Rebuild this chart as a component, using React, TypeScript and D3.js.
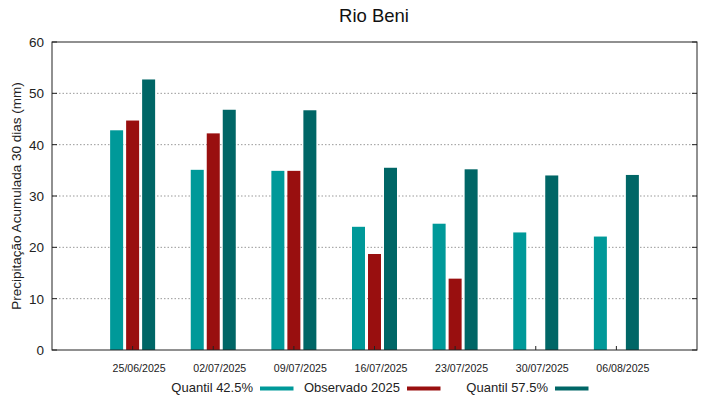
import * as React from "react";
import * as d3 from "d3";

const dates = ["25/06/2025", "02/07/2025", "09/07/2025", "16/07/2025", "23/07/2025", "30/07/2025", "06/08/2025"];
const quantil425 = [42.8, 35.1, 34.9, 24.0, 24.6, 22.9, 22.1];
const observado = [44.7, 42.2, 34.9, 18.7, 13.9, null, null];
const quantil575 = [52.7, 46.8, 46.7, 35.5, 35.2, 34.0, 34.1];
const yTicks = [0, 10, 20, 30, 40, 50, 60];

const series = [
  { name: "Quantil 42.5%", values: quantil425, color: "#009999", offset: -16 },
  { name: "Observado 2025", values: observado, color: "#990f0f", offset: 0 },
  { name: "Quantil 57.5%", values: quantil575, color: "#006666", offset: 16 },
];

const W = 719, H = 399;
const left = 52, right = 697, top = 42, bottom = 350;
const font = "Liberation Sans, Arial, sans-serif";

export default function App() {
  const ref = React.useRef<SVGSVGElement>(null);

  React.useEffect(() => {
    const svg = d3.select(ref.current);
    svg.selectAll("*").remove();

    const x = d3.scaleLinear().domain([0, 8]).range([left, right]);
    const y = d3.scaleLinear().domain([0, 60]).range([bottom, top]);
    const barW = 13;

    // grid
    svg.append("g")
      .selectAll("line")
      .data(yTicks.slice(1, -1))
      .enter()
      .append("line")
      .attr("x1", left).attr("x2", right)
      .attr("y1", d => y(d)).attr("y2", d => y(d))
      .attr("stroke", "#999").attr("stroke-width", 1)
      .attr("stroke-dasharray", "1.5,2");

    // bars
    series.forEach(s => {
      svg.append("g")
        .selectAll("rect")
        .data(s.values.map((v, i) => ({ v, i })).filter(d => d.v != null))
        .enter()
        .append("rect")
        .attr("x", d => x(d.i + 1) + s.offset - barW / 2)
        .attr("width", barW)
        .attr("y", d => y(d.v as number))
        .attr("height", d => y(0) - y(d.v as number))
        .attr("fill", s.color);
    });

    // frame
    svg.append("rect")
      .attr("x", left).attr("y", top)
      .attr("width", right - left).attr("height", bottom - top)
      .attr("fill", "none").attr("stroke", "#222").attr("stroke-width", 1);

    // y ticks (inward, both sides)
    const yt = svg.append("g");
    yTicks.forEach(t => {
      yt.append("line").attr("x1", left).attr("x2", left + 5).attr("y1", y(t)).attr("y2", y(t)).attr("stroke", "#222");
      yt.append("line").attr("x1", right).attr("x2", right - 5).attr("y1", y(t)).attr("y2", y(t)).attr("stroke", "#222");
      yt.append("text")
        .attr("x", left - 8).attr("y", y(t) + 5)
        .attr("text-anchor", "end")
        .attr("font-family", font).attr("font-size", 13.5)
        .attr("fill", "#222")
        .text(t);
    });

    // x ticks
    d3.range(1, 8).forEach(i => {
      svg.append("line").attr("x1", x(i)).attr("x2", x(i)).attr("y1", bottom).attr("y2", bottom - 4).attr("stroke", "#222");
    });
    svg.append("g")
      .selectAll("text")
      .data(dates)
      .enter()
      .append("text")
      .attr("x", (d, i) => x(i + 1) + 6.5)
      .attr("y", 371.5)
      .attr("text-anchor", "middle")
      .attr("font-family", font).attr("font-size", 10.6)
      .attr("fill", "#222")
      .text(d => d);

    // title
    svg.append("text")
      .attr("x", 374).attr("y", 22)
      .attr("text-anchor", "middle")
      .attr("font-family", font).attr("font-size", 18.5)
      .attr("fill", "#111")
      .text("Rio Beni");

    // y label
    svg.append("text")
      .attr("transform", `translate(21,${(top + bottom) / 2}) rotate(-90)`)
      .attr("text-anchor", "middle")
      .attr("font-family", font).attr("font-size", 13.5)
      .attr("fill", "#222")
      .text("Precipitação Acumulada 30 dias (mm)");

    // legend
    const legendX = [253, 400, 548];
    const lg = svg.append("g");
    series.forEach((s, i) => {
      lg.append("text")
        .attr("x", legendX[i]).attr("y", 392)
        .attr("text-anchor", "end")
        .attr("font-family", font).attr("font-size", 13)
        .attr("fill", "#222")
        .text(s.name);
      lg.append("rect")
        .attr("x", legendX[i] + 7).attr("y", 386.5)
        .attr("width", 33.5).attr("height", 4)
        .attr("fill", s.color);
    });
  }, []);

  return (
    <svg ref={ref} width={W} height={H} style={{ position: "absolute", left: 0, top: 0, background: "#fff" }} />
  );
}
